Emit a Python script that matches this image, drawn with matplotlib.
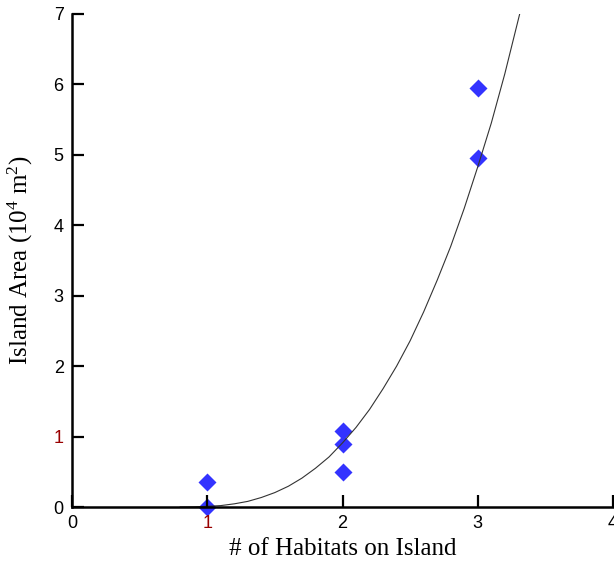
import matplotlib
matplotlib.use('Agg')
import matplotlib.pyplot as plt

plt.rcParams['mathtext.fontset'] = 'custom'
plt.rcParams['mathtext.rm'] = 'Liberation Serif'
plt.rcParams['mathtext.default'] = 'regular'

# observed islands
habitats = [1, 1, 2, 2, 2, 3, 3]
area = [0.0, 0.35, 0.5, 0.9, 1.08, 4.95, 5.95]

# fitted curve
fit_x = [0.8, 0.9, 1.0, 1.1, 1.2, 1.3, 1.4, 1.5, 1.6, 1.7, 1.8, 1.9, 2.0,
         2.1, 2.2, 2.3, 2.4, 2.5, 2.6, 2.7, 2.8, 2.9, 3.0, 3.1, 3.2, 3.31]
fit_y = [0.0, 0.002, 0.01, 0.02, 0.045, 0.08, 0.135, 0.205, 0.295, 0.41,
         0.55, 0.71, 0.91, 1.13, 1.385, 1.68, 2.0, 2.36, 2.77, 3.22, 3.7,
         4.24, 4.83, 5.45, 6.15, 7.0]

xticks = [0, 1, 2, 3, 4]
yticks = [0, 1, 2, 3, 4, 5, 6, 7]

fig = plt.figure(figsize=(6.14, 5.61), dpi=100)
ax = fig.add_axes([72/614, 54/561, 541/614, 493/561])

ax.plot(fit_x, fit_y, color='#333333', lw=0.8, zorder=1.2)
ax.plot(habitats, area, 'D', color='#3333ff', ms=8.7, mec='none',
        clip_on=False, zorder=1)

ax.set_xlim(0, 4)
ax.set_ylim(0, 7)
ax.set_xticks(xticks)
ax.set_yticks(yticks)
ax.set_xticklabels([str(t) for t in xticks], family='Liberation Sans', fontsize=13)
ax.set_yticklabels([str(t) for t in yticks], family='Liberation Sans', fontsize=13)
ax.get_xticklabels()[1].set_color('#990000')
ax.get_yticklabels()[1].set_color('#990000')

for s in ['top', 'right']:
    ax.spines[s].set_visible(False)
for s in ['left', 'bottom']:
    ax.spines[s].set_linewidth(1.8)
ax.set_axisbelow(False)
ax.tick_params(direction='in', length=8.5, width=1.6, pad=6)

ax.set_xlabel('# of Habitats on Island', family='Liberation Serif', fontsize=18)
ax.set_ylabel('Island Area (10$^{4}$ m$^{2}$)', family='Liberation Serif', fontsize=18)
ax.xaxis.set_label_coords(0.5, -0.063)
ax.yaxis.set_label_coords(-0.068, 0.5)

plt.savefig('out.png', dpi=100)
